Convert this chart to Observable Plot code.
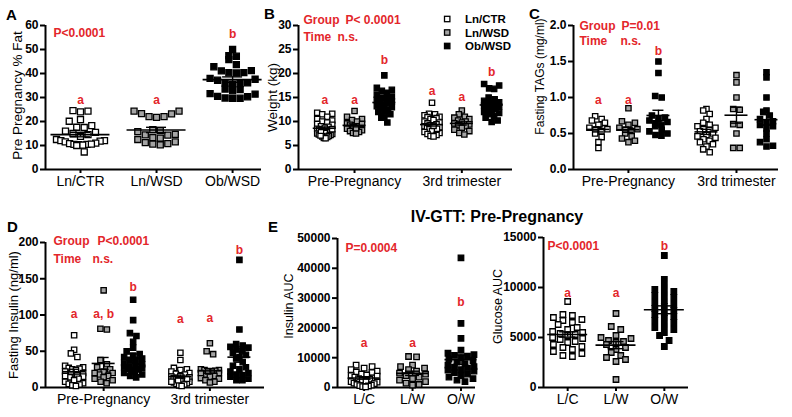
<!DOCTYPE html>
<html><head><meta charset="utf-8">
<script src="https://cdn.jsdelivr.net/npm/d3@7"></script>
<script src="https://cdn.jsdelivr.net/npm/@observablehq/plot@0.6"></script>
<style>
body{margin:0;background:#fff;}
#fig{position:relative;width:792px;height:417px;overflow:hidden;background:#fff;}
#fig svg{position:absolute;left:0;top:0;}
</style></head><body><div id="fig"></div>
<script>
// ---------- categories & labels ----------
const groupsA = ["Ln/CTR", "Ln/WSD", "Ob/WSD"];
const timepoints = ["Pre-Pregnancy", "3rd trimester"];
const groupsE = ["L/C", "L/W", "O/W"];

// ---------- A: Pre pregnancy % fat ----------
const fatLnCTR = [24.5, 24.0, 24.3, 20.8, 20.1, 18.3, 17.5, 17.6, 16.0, 15.5, 15.0, 14.5, 13.8, 12.5, 12.0, 12.0, 11.8, 11.5, 11.0, 10.8, 10.5, 10.5, 10.3, 10.2, 10.6, 10.0, 7.3];
const fatLnWSD = [24.3, 23.3, 22.0, 21.7, 22.0, 23.2, 24.3, 16.2, 15.8, 14.3, 14.4, 14.6, 16.6, 13.3, 12.5, 10.8, 10.3, 10.6, 11.2, 11.5, 13.1];
const fatObWSD = [50.0, 47.2, 47.4, 45.8, 42.8, 41.2, 40.3, 40.2, 40.4, 41.1, 43.7, 37.6, 36.0, 35.8, 35.6, 36.1, 33.3, 33.5, 32.8, 31.6, 30.5, 29.8, 29.6, 29.7, 30.3, 31.4, 38.0, 37.2];

// ---------- B: Weight (kg) ----------
const wtPreLnCTR = [11.8, 11.6, 11.5, 11.0, 10.5, 10.2, 10.0, 9.8, 9.5, 9.3, 9.0, 8.9, 8.7, 8.5, 8.3, 8.2, 8.0, 7.9, 7.8, 7.6, 7.5, 7.4, 7.3, 7.2, 7.0, 6.9, 6.8, 6.6, 6.5, 7.1, 8.1, 8.4];
const wtPreLnWSD = [12.2, 11.0, 10.5, 10.3, 10.0, 9.6, 9.3, 9.0, 8.8, 8.5, 8.2, 8.0, 7.8, 7.6, 7.5, 8.6, 9.5];
const wtPreObWSD = [19.6, 17.0, 16.6, 16.4, 16.0, 15.6, 15.2, 15.0, 14.8, 14.5, 14.2, 14.0, 13.8, 13.5, 13.2, 13.0, 12.8, 12.5, 12.2, 12.0, 11.5, 11.0, 10.8, 9.8];
const wt3LnCTR = [13.9, 11.6, 11.5, 11.3, 11.0, 10.9, 10.7, 10.5, 10.3, 10.0, 9.8, 9.6, 9.4, 9.2, 9.0, 8.8, 8.6, 8.4, 8.2, 8.0, 7.8, 7.6, 7.4, 7.2, 7.0, 6.9, 8.5, 9.1];
const wt3LnWSD = [12.3, 11.5, 11.0, 10.8, 10.5, 10.2, 10.0, 9.8, 9.6, 9.4, 9.2, 9.0, 8.7, 8.3, 8.0, 7.6, 7.3];
const wt3ObWSD = [17.8, 17.5, 16.8, 16.9, 15.0, 14.6, 14.3, 14.0, 13.8, 13.5, 13.3, 13.1, 12.9, 12.6, 12.3, 12.0, 11.8, 11.5, 11.2, 10.8, 9.9, 10.2];

// ---------- C: Fasting TAGs (mg/ml) ----------
const tagPreLnCTR = [0.74, 0.70, 0.68, 0.65, 0.62, 0.58, 0.56, 0.55, 0.53, 0.50, 0.45, 0.38, 0.30];
const tagPreLnWSD = [0.85, 0.67, 0.65, 0.62, 0.58, 0.56, 0.55, 0.53, 0.50, 0.46, 0.43, 0.40, 0.38];
const tagPreObWSD = [1.50, 1.34, 1.02, 1.00, 0.75, 0.72, 0.70, 0.68, 0.66, 0.64, 0.62, 0.60, 0.55, 0.53, 0.50, 0.48, 0.47];
const tag3LnCTR = [0.84, 0.82, 0.77, 0.70, 0.65, 0.62, 0.60, 0.58, 0.56, 0.55, 0.53, 0.50, 0.48, 0.46, 0.44, 0.42, 0.40, 0.38, 0.35, 0.32, 0.28, 0.24];
const tag3LnWSD = [1.31, 1.21, 1.00, 0.84, 0.83, 0.63, 0.62, 0.50, 0.30, 0.30];
const tag3ObWSD = [1.35, 1.28, 1.00, 0.82, 0.80, 0.75, 0.70, 0.67, 0.65, 0.62, 0.60, 0.57, 0.50, 0.42, 0.38, 0.33, 0.32];

// ---------- D: Fasting insulin (ng/ml) ----------
const insPreLnCTR = [72, 52, 47, 42, 30, 28, 27, 26, 25, 24, 22, 20, 18, 17, 15, 14, 12, 10, 8, 6, 5, 4, 3, 2, 16];
const insPreLnWSD = [134, 81, 80, 38, 32, 28, 25, 22, 20, 18, 16, 14, 12, 10, 8, 6, 20];
const insPreObWSD = [121, 93, 75, 71, 63, 55, 50, 46, 44, 42, 40, 38, 36, 34, 32, 30, 29, 28, 27, 26, 25, 24, 22, 20, 18, 16, 14];
const ins3LnCTR = [48, 38, 27, 25, 24, 22, 20, 19, 18, 16, 15, 14, 13, 12, 11, 10, 9, 8, 7, 6, 5, 4, 3, 2, 12, 10, 8];
const ins3LnWSD = [61, 50, 46, 25, 24, 24, 23, 22, 20, 18, 16, 15, 13, 12, 10, 8, 7, 22, 20];
const ins3ObWSD = [176, 80, 60, 58, 56, 55, 53, 50, 48, 45, 42, 40, 35, 30, 28, 25, 22, 20, 18, 17, 15, 12, 10, 10];

// ---------- E: IV-GTT AUCs ----------
const insAucLC = [7500, 7000, 6500, 6000, 5500, 5200, 5000, 4500, 4000, 3500, 3200, 3000, 2800, 2500, 2200, 2000, 1800, 1500, 1300, 1000, 800, 600, 500, 300, 200, 4200, 3800];
const insAucLW = [10400, 10300, 7500, 7000, 6500, 6000, 5500, 4800, 4500, 4000, 3500, 3000, 2500, 2000, 1500, 1000, 800];
const insAucOW = [43500, 21500, 16500, 12500, 11500, 11000, 10800, 10500, 10000, 9500, 9000, 8500, 8000, 7500, 7000, 6800, 6500, 6000, 5500, 5000, 4500, 4000, 3500, 3000, 2500, 2000, 5800];
const gluAucLC = [8600, 7300, 7200, 7000, 6800, 6700, 6500, 6300, 6000, 5800, 5600, 5500, 5400, 5300, 5200, 5000, 4900, 4800, 4600, 4500, 4300, 4100, 4000, 3800, 3600, 3400, 3200, 3100];
const gluAucLW = [7400, 6100, 5800, 5200, 5000, 4900, 4700, 4600, 4500, 4300, 4000, 3800, 3500, 3200, 3000, 2800, 2600, 800];
const gluAucOW = [13200, 10800, 10100, 9800, 9600, 9400, 9200, 9000, 8700, 8500, 8300, 8100, 7900, 7700, 7500, 7300, 7100, 6900, 6700, 6500, 6200, 6000, 5800, 5500, 5200, 4700, 4100];

// ---------- significance letters (text, value-axis height) ----------
const lettersA = ["a", "a", "b"];            const letterYA = [29, 29, 56.5];
const lettersB = ["a", "a", "b", "a", "a", "b"]; const letterYB = [14.4, 14.4, 22.7, 16.3, 15.1, 20.3];
const lettersC = ["a", "a", "b"];            const letterYC = [0.97, 0.97, 1.64];
const lettersD = ["a", "a, b", "b", "a", "a", "b"]; const letterYD = [101.6, 101.6, 139, 94, 96, 189];
const lettersE1 = ["a", "a", "b"];           const letterYE1 = [14870, 14870, 28600];
const lettersE2 = ["a", "a", "b"];           const letterYE2 = [9430, 9430, 14100];

// ---------- styling ----------
const FONT = "'Liberation Sans', Arial, Helvetica, sans-serif";
const RED = "#e3262b";
const FILL = {"Ln/CTR": "white", "Ln/WSD": "#a4a4a4", "Ob/WSD": "black"};
const W = 792, H = 417;

// GraphPad-like row scatter: bin points in rows, spread centre-out
function swarmOffsets(values, pxPerVal, rowH, w, maxSpan) {
  const order = values.map((v, i) => i).sort((a, b) => values[a] - values[b]);
  const off = new Array(values.length).fill(0);
  let i = 0;
  while (i < order.length) {
    const start = values[order[i]];
    let j = i;
    while (j < order.length && (values[order[j]] - start) * pxPerVal < rowH) j++;
    const row = order.slice(i, j), k = row.length;
    const s = k > 1 ? Math.min(w, maxSpan / (k - 1)) : 0;
    row.forEach((idx, r) => {
      let slot;
      if (k % 2 === 1) slot = r === 0 ? 0 : (r % 2 === 1 ? (r + 1) / 2 : -r / 2);
      else { const m = Math.floor(r / 2) + 0.5; slot = r % 2 === 0 ? m : -m; }
      off[idx] = slot * s;
    });
    i = j;
  }
  return off;
}

function makePanel(cfg) {
  const [fx0, fx1, fy0, fy1] = cfg.frame;
  const pxPerX = (fx1 - fx0) / (cfg.xDomain[1] - cfg.xDomain[0]);
  const pxPerY = (fy1 - fy0) / (cfg.yDomain[1] - cfg.yDomain[0]);
  const pts = [], stats = [];
  cfg.series.forEach(s => {
    const off = swarmOffsets(s.values, pxPerY, cfg.rowH, cfg.dotW, cfg.maxSpan);
    s.values.forEach((v, i) => pts.push({x: s.pos + off[i] / pxPerX, y: v, fill: FILL[s.group]}));
    const m = d3.mean(s.values), se = d3.deviation(s.values) / Math.sqrt(s.values.length);
    stats.push({pos: s.pos, mean: m, lo: m - se, hi: m + se});
  });
  const hw = cfg.meanW / 2 / pxPerX, cw = cfg.capW / 2 / pxPerX;
  const caps = stats.flatMap(d => [{pos: d.pos, y: d.lo}, {pos: d.pos, y: d.hi}]);
  const letters = cfg.letters.map((t, i) => ({t, y: cfg.letterY[i], pos: cfg.series[i].pos}));
  const notes = cfg.notes.map(n => Plot.text([n.t], {text: d => d, frameAnchor: "top-left", dx: n.dx, dy: n.dy,
    textAnchor: "start", lineAnchor: "middle", fill: RED, fontWeight: "bold", fontSize: 12}));
  return Plot.plot({
    width: W, height: H,
    marginLeft: fx0, marginRight: W - fx1, marginTop: fy0, marginBottom: H - fy1,
    style: {background: "transparent", overflow: "visible", fontFamily: FONT, color: "black"},
    x: {type: "linear", domain: cfg.xDomain},
    y: {type: "linear", domain: cfg.yDomain},
    color: {type: "identity"},
    marks: [
      Plot.axisY({ticks: cfg.yTicks, tickFormat: cfg.yFormat, tickSize: 5, tickPadding: 2, fontSize: 12,
        fontWeight: "bold", strokeWidth: 2, label: null}),
      Plot.axisX({ticks: cfg.xTicks, tickFormat: d => cfg.xLabels[cfg.xTicks.indexOf(d)], tickSize: 4,
        tickPadding: 3, fontSize: 14, strokeWidth: 2, label: null}),
      Plot.ruleX([cfg.xDomain[0]], {stroke: "black", strokeWidth: 2}),
      Plot.ruleY([cfg.yDomain[0]], {stroke: "black", strokeWidth: 2}),
      Plot.dot(pts, {x: "x", y: "y", symbol: "square", r: cfg.r, fill: "fill", stroke: "black", strokeWidth: 1.3}),
      Plot.ruleY(stats, {y: "mean", x1: d => d.pos - hw, x2: d => d.pos + hw, stroke: "black", strokeWidth: 1.6}),
      Plot.ruleX(stats, {x: "pos", y1: "lo", y2: "hi", stroke: "black", strokeWidth: 1.4}),
      Plot.ruleY(caps, {y: "y", x1: d => d.pos - cw, x2: d => d.pos + cw, stroke: "black", strokeWidth: 1.4}),
      Plot.text(letters, {x: "pos", y: "y", text: "t", fill: RED, fontWeight: "bold", fontSize: 12, lineAnchor: "middle"}),
      Plot.text([cfg.yLabel], {text: d => d, frameAnchor: "left", rotate: -90, dx: cfg.yLabelDx, dy: cfg.yLabelDy,
        textAnchor: "middle", lineAnchor: "middle", fontSize: cfg.yLabelSize}),
      ...notes
    ]
  });
}

const pos6 = [0, 1, 2, 3.6, 4.6, 5.6];
const grp6 = [...groupsA, ...groupsA];
const fig = document.getElementById("fig");

const panels = [
  { // A
    frame: [45, 261, 25, 169], xDomain: [-0.46, 2.38], yDomain: [0, 60], yTicks: d3.range(0, 61, 10), yFormat: d3.format("d"),
    series: [fatLnCTR, fatLnWSD, fatObWSD].map((v, i) => ({pos: i, values: v, group: groupsA[i]})),
    rowH: 6.5, dotW: 7.5, maxSpan: 48, meanW: 59, capW: 20, r: 3.4,
    xTicks: [0, 1, 2], xLabels: groupsA,
    yLabel: "Pre Pregnancy % Fat", yLabelDx: -28, yLabelDy: -2, yLabelSize: 13.5,
    letters: lettersA, letterY: letterYA,
    notes: [{t: "P<0.0001", dx: 8, dy: 8}]
  },
  { // B
    frame: [298, 512, 25, 169], xDomain: [-0.88, 6.3], yDomain: [0, 30], yTicks: d3.range(0, 31, 5), yFormat: d3.format("d"),
    series: [wtPreLnCTR, wtPreLnWSD, wtPreObWSD, wt3LnCTR, wt3LnWSD, wt3ObWSD].map((v, i) => ({pos: pos6[i], values: v, group: grp6[i]})),
    rowH: 5, dotW: 6, maxSpan: 15, meanW: 23, capW: 11, r: 3.0,
    xTicks: [1, 4.6], xLabels: timepoints,
    yLabel: "Weight (kg)", yLabelDx: -26, yLabelDy: 0, yLabelSize: 13.5,
    letters: lettersB, letterY: letterYB,
    notes: [{t: "Group", dx: 5, dy: -5}, {t: "P< 0.0001", dx: 47, dy: -5}, {t: "Time", dx: 5, dy: 11.7}, {t: "n.s.", dx: 39, dy: 11.7}]
  },
  { // C
    frame: [573, 778, 25, 169], xDomain: [-0.83, 6.0], yDomain: [0, 2], yTicks: d3.range(0, 2.01, 0.5), yFormat: d3.format(".1f"),
    series: [tagPreLnCTR, tagPreLnWSD, tagPreObWSD, tag3LnCTR, tag3LnWSD, tag3ObWSD].map((v, i) => ({pos: pos6[i], values: v, group: grp6[i]})),
    rowH: 5, dotW: 6.5, maxSpan: 18, meanW: 23, capW: 11, r: 3.0,
    xTicks: [1, 4.6], xLabels: timepoints,
    yLabel: "Fasting TAGs (mg/ml)", yLabelDx: -33, yLabelDy: -21, yLabelSize: 12,
    letters: lettersC, letterY: letterYC,
    notes: [{t: "Group", dx: 6, dy: 1}, {t: "P=0.01", dx: 48, dy: 1}, {t: "Time", dx: 6, dy: 15.5}, {t: "n.s.", dx: 47, dy: 15.5}]
  },
  { // D
    frame: [45, 264, 242, 387], xDomain: [-0.97, 6.45], yDomain: [0, 200], yTicks: d3.range(0, 201, 50), yFormat: d3.format("d"),
    series: [insPreLnCTR, insPreLnWSD, insPreObWSD, ins3LnCTR, ins3LnWSD, ins3ObWSD].map((v, i) => ({pos: pos6[i], values: v, group: grp6[i]})),
    rowH: 5, dotW: 6.5, maxSpan: 18, meanW: 23, capW: 11, r: 3.0,
    xTicks: [1, 4.6], xLabels: timepoints,
    yLabel: "Fasting Insulin (ng/ml)", yLabelDx: -32, yLabelDy: 0, yLabelSize: 13,
    letters: lettersD, letterY: letterYD,
    notes: [{t: "Group", dx: 8, dy: -1}, {t: "P<0.0001", dx: 52, dy: -1}, {t: "Time", dx: 8, dy: 16.3}, {t: "n.s.", dx: 47, dy: 16.3}]
  },
  { // E left
    frame: [337, 475, 238, 387], xDomain: [-0.55, 2.3], yDomain: [0, 50000], yTicks: d3.range(0, 50001, 10000), yFormat: d3.format("d"),
    series: [insAucLC, insAucLW, insAucOW].map((v, i) => ({pos: i, values: v, group: groupsA[i]})),
    rowH: 5.5, dotW: 8, maxSpan: 26, meanW: 32, capW: 14, r: 3.1,
    xTicks: [0, 1, 2], xLabels: groupsE,
    yLabel: "Insulin AUC", yLabelDx: -49, yLabelDy: -7, yLabelSize: 12.5,
    letters: lettersE1, letterY: letterYE1,
    notes: [{t: "P=0.0004", dx: 8, dy: 9.3}]
  },
  { // E right
    frame: [543, 688, 237, 387], xDomain: [-0.5, 2.5], yDomain: [0, 15000], yTicks: d3.range(0, 15001, 5000), yFormat: d3.format("d"),
    series: [gluAucLC, gluAucLW, gluAucOW].map((v, i) => ({pos: i, values: v, group: groupsA[i]})),
    rowH: 6, dotW: 9.5, maxSpan: 30, meanW: 40, capW: 16, r: 3.1,
    xTicks: [0, 1, 2], xLabels: groupsE,
    yLabel: "Glucose AUC", yLabelDx: -46, yLabelDy: -6, yLabelSize: 12.5,
    letters: lettersE2, letterY: letterYE2,
    notes: [{t: "P<0.0001", dx: 4, dy: 8.7}]
  }
];
panels.forEach(cfg => fig.appendChild(makePanel(cfg)));

// ---------- overlay: panel letters, E title, B legend ----------
const ov = d3.create("svg").attr("width", W).attr("height", H).style("font-family", FONT);
[["A", 6, 19.5], ["B", 264, 18.5], ["C", 529, 18.5], ["D", 7, 232], ["E", 268, 232]].forEach(([t, x, y]) =>
  ov.append("text").attr("x", x).attr("y", y).attr("font-size", 15).attr("font-weight", 900).text(t));
ov.append("text").attr("x", 497).attr("y", 222).attr("text-anchor", "middle").attr("font-size", 16)
  .attr("font-weight", "bold").text("IV-GTT: Pre-Pregnancy");
const leg = ov.append("g");
groupsA.forEach((g, i) => {
  const y = 19 + i * 13.5;
  leg.append("rect").attr("x", 444.5).attr("y", y - 2.7).attr("width", 5.4).attr("height", 5.4)
    .attr("fill", FILL[g]).attr("stroke", "black").attr("stroke-width", 1.3);
  leg.append("text").attr("x", 465).attr("y", y + 4).attr("font-size", 11.5).attr("font-weight", "bold").text(g);
});
fig.appendChild(ov.node());
</script></body></html>
